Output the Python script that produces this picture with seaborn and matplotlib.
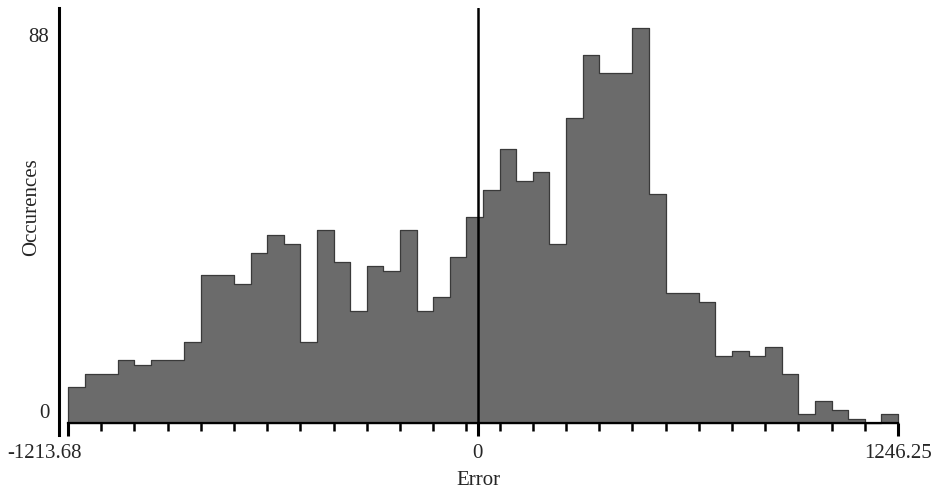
import numpy as np
import pandas as pd
import matplotlib
matplotlib.use("Agg")
import matplotlib.pyplot as plt
from matplotlib.transforms import ScaledTranslation
import seaborn as sns

# ---- data ----
x_min = -1213.68
x_max = 1246.25
n_bins = 50
counts = [8, 11, 11, 14, 13, 14, 14, 18, 33, 33,
          31, 38, 42, 40, 18, 43, 36, 25, 35, 34,
          43, 25, 28, 37, 46, 52, 61, 54, 56, 40,
          68, 82, 78, 78, 88, 51, 29, 29, 27, 15,
          16, 15, 17, 11, 2, 5, 3, 1, 0, 2]
y_tick_values = [0, 88]
x_tick_labels = ["-1213.68", "0", "1246.25"]

edges = np.linspace(x_min, x_max, n_bins + 1)
centers = (edges[:-1] + edges[1:]) / 2
df = pd.DataFrame({"Error": centers, "count": counts})

sns.set_theme(style="white")
plt.rcParams["font.family"] = ["Liberation Serif", "DejaVu Serif"]

W, H = 937, 494
fig = plt.figure(figsize=(W / 100, H / 100), dpi=100)

# layout in pixels
ax_left_px, ax_right_px = 59, 905
ax_top_px, ax_bot_px = 8, 435
data_left_px, data_right_px = 68, 898
zero_px, top88_px = 423, 28.3

ax = fig.add_axes([ax_left_px / W, 1 - ax_bot_px / H,
                   (ax_right_px - ax_left_px) / W, (ax_bot_px - ax_top_px) / H])

sns.histplot(data=df, x="Error", weights="count", bins=n_bins,
             binrange=(x_min, x_max), ax=ax, element="step", fill=True,
             color="#6b6b6b", alpha=1.0, edgecolor="#3a3a3a", linewidth=0.9)

ppx = (data_right_px - data_left_px) / (x_max - x_min)
ax.set_xlim(x_min - (data_left_px - ax_left_px) / ppx,
            x_max + (ax_right_px - data_right_px) / ppx)
ppy = (zero_px - top88_px) / 88
ax.set_ylim(-(ax_bot_px - zero_px) / ppy, (zero_px - ax_top_px) / ppy)

# spines
for s in ["top", "right"]:
    ax.spines[s].set_visible(False)
ax.spines["left"].set_linewidth(2.2)
ax.spines["left"].set_color("black")
ax.spines["bottom"].set_position(("data", 0))
ax.spines["bottom"].set_bounds(x_min, x_max)
ax.spines["bottom"].set_linewidth(1.6)
ax.spines["bottom"].set_color("black")
ax.spines["bottom"].set_zorder(6)

# zero line
ax.axvline(0, color="black", linewidth=1.8, zorder=5)

# x ticks
ax.set_xticks([x_min, 0, x_max])
ax.set_xticklabels(x_tick_labels)
ax.set_xticks(edges[::2], minor=True)
ax.tick_params(axis="x", which="major", direction="out", length=9, width=2.2,
               color="black", labelsize=15, pad=6, bottom=True)
ax.tick_params(axis="x", which="minor", direction="out", length=5.5, width=1.8,
               color="black", bottom=True)
lbls = ax.get_xticklabels()
lbls[0].set_transform(lbls[0].get_transform() +
                      ScaledTranslation(-0.24, 0, fig.dpi_scale_trans))

# y ticks
ax.set_yticks(y_tick_values)
ax.set_yticklabels([str(v) for v in y_tick_values])
ax.tick_params(axis="y", which="major", length=0, labelsize=15, pad=7, left=True)
ylbls = ax.get_yticklabels()
ylbls[0].set_va("bottom")
ylbls[1].set_va("top")

ax.set_xlabel("Error", fontsize=15)
ax.set_ylabel("Occurences", fontsize=15)
ax.xaxis.set_label_coords((478 - ax_left_px) / (ax_right_px - ax_left_px),
                          (ax_bot_px - 471) / (ax_bot_px - ax_top_px))
ax.yaxis.set_label_coords((41 - ax_left_px) / (ax_right_px - ax_left_px),
                          (ax_bot_px - 207) / (ax_bot_px - ax_top_px))

fig.savefig("out.png", dpi=100)
